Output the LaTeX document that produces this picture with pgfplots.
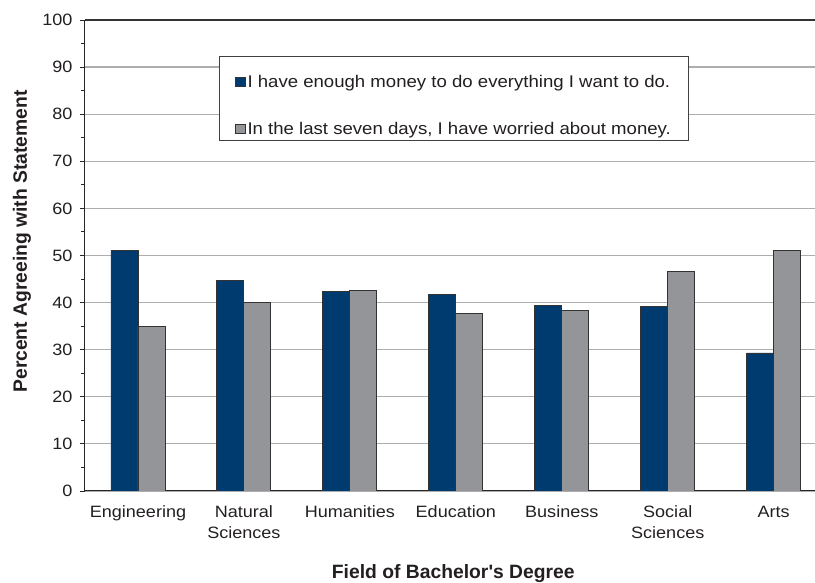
\documentclass[border=0pt]{standalone}
\usepackage{fontspec}
\setmainfont{Liberation Sans}[FakeStretch=1.1]
\newfontfamily\plainsans{Liberation Sans}
\usepackage{pgfplots}
\pgfplotsset{compat=1.18}

\definecolor{navy}{RGB}{0,59,111}
\definecolor{midgray}{RGB}{147,149,152}
\definecolor{txt}{RGB}{35,31,32}

\pgfplotstableread{
x  money  worry
0  51.1   35.0
1  44.7   40.0
2  42.3   42.5
3  41.8   37.7
4  39.4   38.4
5  39.1   46.7
6  29.3   51.1
}\degrees

\begin{document}
\begin{tikzpicture}
\begin{axis}[
  scale only axis, width=730pt, height=471pt,
  at={(0,0)}, anchor=south west,
  ybar=0pt, bar width=0.255,
  xmin=-0.5, xmax=6.39, ymin=0, ymax=100,
  axis x line*=bottom, axis y line*=left,
  axis line style={-, black!85, line width=1pt},
  tick align=outside,
  ytick={0,10,...,100}, minor y tick num=1,
  ymajorgrids, grid style={black!32, line width=1.2pt},
  major tick length=4.5pt, minor tick length=4pt,
  tick style={black!85, line width=0.9pt},
  xtick={0,...,6}, xtick style={draw=none},
  xticklabels={Engineering,Natural\\Sciences,Humanities,Education,Business,Social\\Sciences,Arts},
  minor xtick={-0.5,0.5,...,5.5},
  xticklabel style={align=center, text=txt, font=\fontsize{16.4}{21}\selectfont, yshift=-7pt},
  yticklabel style={text=txt, font=\fontsize{16.4}{20}\selectfont, xshift=-4.5pt},
  /pgf/number format/assume math mode=true,
  extra y ticks={100}, extra y tick labels={},
  extra y tick style={grid style={black!80, line width=1.3pt}, major tick length=0pt},
  xlabel={Field of Bachelor's Degree},
  ylabel={Percent Agreeing with Statement},
  xlabel style={at={(axis description cs:0.5045,0)}, anchor=base, yshift=-87.5pt,
    font=\plainsans\bfseries\fontsize{19.3}{22}\selectfont, text=txt},
  ylabel style={at={(axis description cs:-0.0863,0.53)}, anchor=center,
    font=\plainsans\bfseries\fontsize{19.3}{22}\selectfont, text=txt},
  legend style={at={(rel axis cs:0.1836,0.9236)}, anchor=north west,
    draw=black!75, line width=0.8pt, fill=white,
    font=\fontsize{16.9}{20}\selectfont, text=txt,
    cells={anchor=base west},
    inner xsep=16pt, inner ysep=2.4pt, row sep=29pt,
    /tikz/row 1 column 2/.style={text height=27pt},
    /tikz/every even column/.append style={column sep=4pt}},
  legend image code/.code={\draw[#1, draw=black!80, line width=0.6pt] (0pt,1.5pt) rectangle (9.5pt,10.1pt);},
]
\addplot[fill=navy, draw=black!80, line width=0.9pt] table[x=x, y=money] {\degrees};
\addplot[fill=midgray, draw=black!80, line width=0.9pt] table[x=x, y=worry] {\degrees};
\legend{I have enough money to do everything I want to do., {In the last seven days, I have worried about money.}}
\end{axis}
\pgfresetboundingbox
\useasboundingbox (-85pt,-92pt) rectangle (730pt,491pt);
\end{tikzpicture}
\end{document}
